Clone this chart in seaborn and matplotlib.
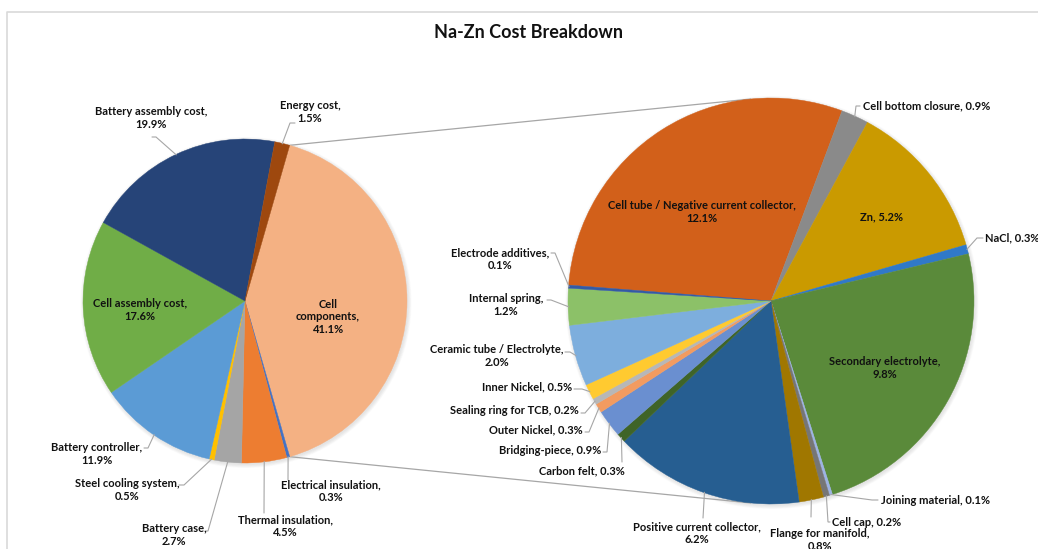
import numpy as np
import matplotlib
matplotlib.use("Agg")
import matplotlib.pyplot as plt
from matplotlib.patches import Circle
import seaborn as sns

# ---- data -------------------------------------------------------------
main_labels = ["Cell components", "Electrical insulation", "Thermal insulation",
               "Battery case", "Steel cooling system", "Battery controller",
               "Cell assembly cost", "Battery assembly cost", "Energy cost"]
main_values = [41.1, 0.3, 4.5, 2.7, 0.5, 11.9, 17.6, 19.9, 1.5]
main_colors = ["#F4B183", "#4472C4", "#ED7D31", "#A5A5A5", "#FFC000",
               "#5B9BD5", "#70AD47", "#264478", "#9E480E"]

cell_labels = ["Cell tube / Negative current collector", "Cell bottom closure", "Zn",
               "NaCl", "Secondary electrolyte", "Joining material", "Cell cap",
               "Flange for manifold", "Positive current collector", "Carbon felt",
               "Bridging-piece", "Outer Nickel", "Sealing ring for TCB", "Inner Nickel",
               "Ceramic tube / Electrolyte", "Internal spring", "Electrode additives"]
cell_values = [12.1, 0.9, 5.2, 0.3, 9.8, 0.1, 0.2, 0.8, 6.2, 0.3, 0.9, 0.3, 0.2,
               0.5, 2.0, 1.2, 0.1]
cell_colors = ["#D2601A", "#8A8A8A", "#CA9A00", "#3079C8", "#5A8A3A", "#9DB3E2",
               "#767676", "#A07700", "#265E91", "#3F6428", "#6A8FD0", "#F29B60",
               "#B7B7B7", "#FFCA30", "#7DAEDD", "#8CC168", "#335AA5"]

title = "Na-Zn Cost Breakdown"

# ---- layout (pixel coordinates, y measured from the top) -------------
W, H = 1038, 549
MAIN_C, MAIN_R = (245, 301), 162
CELL_C, CELL_R = (771, 301), 203
CELL_START = 175.5

# label: (x, y, ha, value on new line, leader anchor or None, stub length)
main_layout = {
    "Cell components":       (328, 317, "center", True, None, 0),
    "Electrical insulation": (331, 491, "center", True, (288, 480), 0),
    "Thermal insulation":    (285, 526, "center", True, (264, 513), 0),
    "Battery case":          (174, 535, "center", True, (205, 531), 3),
    "Steel cooling system":  (127, 490, "center", True, (179, 485), 5),
    "Battery controller":    (97, 454, "center", True, (144, 448), 4),
    "Cell assembly cost":    (140, 310, "center", True, None, 0),
    "Battery assembly cost": (151, 118, "center", True, (152, 137), 4),
    "Energy cost":           (310, 112, "center", True, (295, 123), -5),
}
cell_layout = {
    "Cell tube / Negative current collector": (702, 212, "center", True, None, 0),
    "Cell bottom closure":        (863, 106, "left", False, (860, 106), -4),
    "Zn":                         (881, 217, "center", False, None, 0),
    "NaCl":                       (985, 238, "left", False, (983, 238), -6),
    "Secondary electrolyte":      (885, 368, "center", True, None, 0),
    "Joining material":           (881, 500, "left", False, (878, 500), -6),
    "Cell cap":                   (832, 522, "left", False, (830, 522), -2),
    "Flange for manifold":        (820, 540, "center", True, (811, 517), 0),
    "Positive current collector": (697, 533, "center", True, (703, 518), 0),
    "Carbon felt":                (625, 471, "right", False, (622, 462), 0),
    "Bridging-piece":             (601, 450, "right", False, (603, 452), 4),
    "Outer Nickel":               (583, 430, "right", False, (585, 432), 4),
    "Sealing ring for TCB":       (579, 411, "right", False, (581, 413), 4),
    "Inner Nickel":               (572, 387, "right", False, (574, 389), 8),
    "Ceramic tube / Electrolyte": (497, 356, "center", True, (565, 352), 5),
    "Internal spring":            (506, 305, "center", True, (547, 300), 4),
    "Electrode additives":        (500, 259, "center", True, (551, 253), 4),
}
display_names = {"Cell components": "Cell\ncomponents"}

LEADER = "#A6A6A6"
BORDER = "#D9D9D9"
INK = "#111111"


def P(x, y):
    """Convert top-origin pixel coordinates to axes data coordinates."""
    return (x, H - y)


sns.set_theme(style="white")
plt.rcParams["font.family"] = ["Lato", "DejaVu Sans"]

fig = plt.figure(figsize=(W / 100, H / 100), dpi=100)
ax = fig.add_axes([0, 0, 1, 1])

# soft outer shadow around each pie
for c, r in [(MAIN_C, MAIN_R), (CELL_C, CELL_R)]:
    for k in range(6):
        ax.add_patch(Circle(P(c[0] + 1, c[1] + 1.5), r + 0.7 * k,
                            color="#808080", alpha=0.035, lw=0, zorder=0))

main_start = 360 * main_values[0] / sum(main_values) / 2
main_wedges, _ = ax.pie(main_values, colors=main_colors, startangle=main_start,
                        counterclock=False, center=P(*MAIN_C), radius=MAIN_R,
                        wedgeprops=dict(linewidth=0.3))
cell_wedges, _ = ax.pie(cell_values, colors=cell_colors, startangle=CELL_START,
                        counterclock=False, center=P(*CELL_C), radius=CELL_R,
                        wedgeprops=dict(linewidth=0.3))
for w in list(main_wedges) + list(cell_wedges):
    w.set_edgecolor(w.get_facecolor())
    w.set_zorder(2)


def on_rim(center, r, ang):
    cx, cy = P(*center)
    a = np.radians(ang)
    return cx + r * np.cos(a), cy + r * np.sin(a)


def tangent(p, center, r, upper):
    cx, cy = P(*center)
    dx, dy = p[0] - cx, p[1] - cy
    base = np.degrees(np.arctan2(dy, dx))
    off = np.degrees(np.arccos(r / np.hypot(dx, dy)))
    return on_rim(center, r, base - off if upper else base + off)


# connector lines between the cell-components slice and the breakdown pie
cw = main_wedges[0]
for ang, upper in [(cw.theta2, True), (cw.theta1, False)]:
    p0 = on_rim(MAIN_C, MAIN_R, ang)
    p1 = tangent(p0, CELL_C, CELL_R, upper)
    ax.plot([p0[0], p1[0]], [p0[1], p1[1]], color=LEADER, lw=0.9, zorder=1)


def draw_labels(names, values, wedges, layout, center, r):
    for name, val, w in zip(names, values, wedges):
        x, y, ha, wrap, anchor, stub = layout[name]
        shown = display_names.get(name, name)
        text = f"{shown},{chr(10) if wrap else ' '}{val:.1f}%"
        ax.text(*P(x, y), text, ha=ha, va="center", multialignment="center",
                fontsize=8, fontweight="bold", color=INK,
                linespacing=1.2, zorder=4)
        if anchor is not None:
            mid = (w.theta1 + w.theta2) / 2
            ex, ey = on_rim(center, r - 0.5, mid)
            ax0, ay0 = P(*anchor)
            ax.plot([ax0, ax0 + stub, ex], [ay0, ay0, ey], color=LEADER,
                    lw=0.8, zorder=3, solid_joinstyle="miter")


draw_labels(main_labels, main_values, main_wedges, main_layout, MAIN_C, MAIN_R)
draw_labels(cell_labels, cell_values, cell_wedges, cell_layout, CELL_C, CELL_R)

ax.text(*P(528, 33), title, ha="center", va="center", fontsize=13,
        fontweight="bold", color=INK)

# chart area border
ax.plot([P(7, 549)[0], P(7, 12)[0], P(1040, 12)[0]],
        [P(7, 549)[1], P(7, 12)[1], P(1040, 12)[1]], color=BORDER, lw=1.2,
        zorder=0)

ax.set_xlim(0, W)
ax.set_ylim(0, H)
ax.set_aspect("equal")
ax.axis("off")

fig.savefig("out.png", dpi=100, facecolor="white")
